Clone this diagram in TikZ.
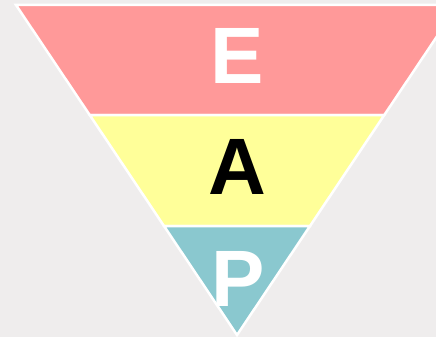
\documentclass[tikz,border=0pt]{standalone}
\usepackage{fontspec}
\setmainfont{Liberation Sans}
\definecolor{bgc}{HTML}{EFEDED}
\definecolor{bandE}{HTML}{FF9999}
\definecolor{bandA}{HTML}{FFFF99}
\definecolor{bandP}{HTML}{8AC8CF}
\tikzset{
  band/.style={draw=white, line width=2.5pt, line join=miter},
  letter/.style={inner sep=0pt, font=\fontsize{80}{80}\selectfont\bfseries},
}
\begin{document}
\begin{tikzpicture}[x=1pt,y=-1pt]
\useasboundingbox (0,0) rectangle (436,337);
\fill[bgc] (0,0) rectangle (436,337);
\clip (0,0) rectangle (436,337);
\coordinate (tl) at (16,5);
\coordinate (tr) at (458,5);
\coordinate (l1) at (89.7,115);
\coordinate (r1) at (384.3,115);
\coordinate (l2) at (164,226);
\coordinate (r2) at (310,226);
\coordinate (apex) at (237,335);
\filldraw[band, fill=bandE] (tl) -- (tr) -- (r1) -- (l1) -- cycle;
\filldraw[band, fill=bandA] (l1) -- (r1) -- (r2) -- (l2) -- cycle;
\filldraw[band, fill=bandP] (l2) -- (r2) -- (apex) -- cycle;
\node[letter, text=white] (E) at (237.5,56) {E};
\node[letter, text=black] (A) at (237,167) {A};
\node[letter, text=white] (P) at (238,278.5) {P};
\end{tikzpicture}
\end{document}
